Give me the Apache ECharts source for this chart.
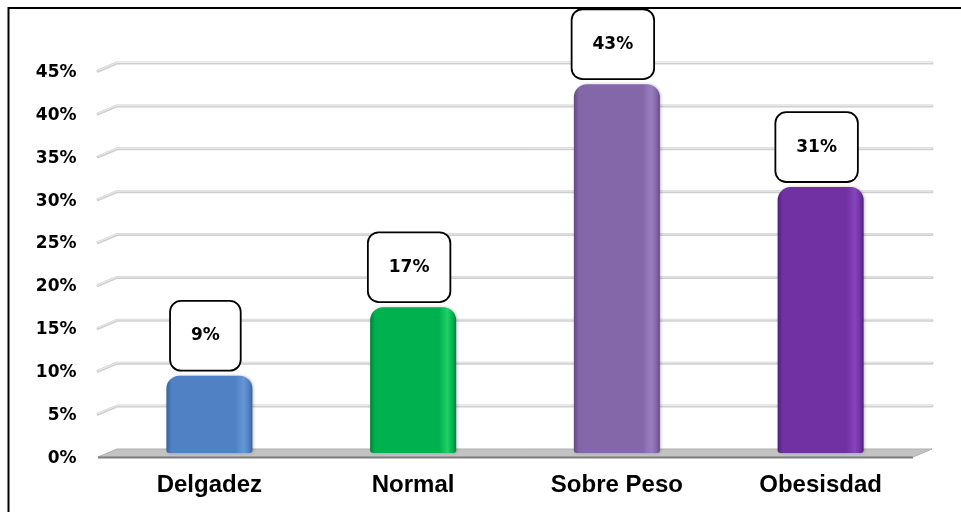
<!DOCTYPE html>
<html>
<head>
<meta charset="utf-8">
<script src="https://cdn.jsdelivr.net/npm/echarts@6/dist/echarts.min.js"></script>
<style>
  html, body { margin: 0; padding: 0; background: #ffffff; }
  #chart { width: 961px; height: 512px; }
</style>
</head>
<body>
<div id="chart"></div>
<script>
// Categories and shares (percent)
const categories = ['Delgadez', 'Normal', 'Sobre Peso', 'Obesisdad'];
const shares = [9, 17, 43, 31];
// Value axis ticks (percent)
const yTicks = [0, 5, 10, 15, 20, 25, 30, 35, 40, 45];

// Bar body colours: [edge shade, body, highlight]
const barColors = [
  ['#3a6496', '#4f81c4', '#6796d6'],
  ['#00843c', '#00b150', '#22cf66'],
  ['#624a82', '#8467a8', '#9a7fc0'],
  ['#521f7a', '#7131a3', '#8744bd']
];

// Perspective depth of the floor/back wall
const DEPTH_X = 9.5, DEPTH_Y = 4;

function barGradient(c) {
  return new echarts.graphic.LinearGradient(0, 0, 1, 0, [
    { offset: 0, color: c[0] },
    { offset: 0.06, color: c[1] },
    { offset: 0.8, color: c[1] },
    { offset: 0.9, color: c[2] },
    { offset: 0.96, color: c[1] },
    { offset: 1, color: c[0] }
  ]);
}

const chart = echarts.init(document.getElementById('chart'), null, { renderer: 'canvas' });

const option = {
  animation: false,
  backgroundColor: '#ffffff',
  graphic: [{
    type: 'rect',
    shape: { x: 8.5, y: 8, width: 1200, height: 1200 },
    style: { fill: 'none', stroke: '#000000', lineWidth: 2 },
    z: 10
  }],
  grid: { left: 107.5, right: 38.5, top: 67, bottom: 59, containLabel: false },
  xAxis: {
    type: 'category',
    data: categories,
    axisLine: { show: false },
    axisTick: { show: false },
    axisLabel: {
      margin: 20,
      fontFamily: 'Liberation Sans',
      fontWeight: 'bold',
      fontSize: 24,
      color: '#000000'
    }
  },
  yAxis: {
    type: 'value',
    min: yTicks[0],
    max: yTicks[yTicks.length - 1],
    interval: yTicks[1] - yTicks[0],
    axisLine: { show: false },
    axisTick: { show: false },
    splitLine: { show: false },
    axisLabel: {
      margin: 31,
      verticalAlign: 'top',
      lineHeight: 11,
      fontFamily: 'DejaVu Sans',
      fontWeight: 'bold',
      fontSize: 17,
      color: '#000000',
      formatter: v => v + '%'
    }
  },
  series: [
    {
      // back wall gridlines and floor
      type: 'custom',
      z: 1,
      silent: true,
      data: yTicks.map(v => [0, v]),
      renderItem: function (params, api) {
        const cs = params.coordSys;
        const v = api.value(1);
        const y = api.coord([0, v])[1];
        const xl = cs.x, xr = cs.x + cs.width;
        if (v === 0) {
          return {
            type: 'group',
            children: [
              {
                type: 'polygon',
                shape: { points: [
                  [xl - DEPTH_X, y + DEPTH_Y], [xr - DEPTH_X, y + DEPTH_Y],
                  [xr + DEPTH_X, y - DEPTH_Y], [xl + DEPTH_X, y - DEPTH_Y]
                ] },
                style: { fill: '#c3c3c3', stroke: '#b0b0b0', lineWidth: 1 }
              },
              {
                type: 'line',
                shape: { x1: xl - DEPTH_X, y1: y + DEPTH_Y + 0.5, x2: xr - DEPTH_X, y2: y + DEPTH_Y + 0.5 },
                style: { stroke: '#7f7f7f', lineWidth: 2 }
              }
            ]
          };
        }
        return {
          type: 'group',
          children: [
            {
              type: 'polyline',
              shape: { points: [
                [xl - DEPTH_X, y + DEPTH_Y], [xl + DEPTH_X, y - DEPTH_Y], [xr + DEPTH_X, y - DEPTH_Y]
              ] },
              style: { stroke: '#cfcfcf', lineWidth: 3, fill: 'none', lineCap: 'round', lineJoin: 'round' }
            },
            {
              type: 'polyline',
              shape: { points: [
                [xl - DEPTH_X, y + DEPTH_Y - 0.5], [xl + DEPTH_X, y - DEPTH_Y - 0.5], [xr + DEPTH_X, y - DEPTH_Y - 0.5]
              ] },
              style: { stroke: '#ececec', lineWidth: 1, fill: 'none' }
            }
          ]
        };
      }
    },
    {
      type: 'bar',
      z: 2,
      barWidth: 86,
      data: shares.map((v, i) => ({
        value: v,
        itemStyle: {
          color: barGradient(barColors[i]),
          borderRadius: [13, 13, 3, 3],
          shadowColor: 'rgba(0,0,0,0.25)',
          shadowBlur: 3,
          shadowOffsetX: 1
        }
      })),
      label: {
        show: true,
        position: 'top',
        distance: 6,
        offset: [-4, 0],
        formatter: p => p.value + '%',
        fontFamily: 'DejaVu Sans',
        fontWeight: 'bold',
        fontSize: 17,
        lineHeight: 18,
        color: '#000000',
        backgroundColor: '#ffffff',
        borderColor: '#000000',
        borderWidth: 1.8,
        borderRadius: 10,
        padding: [25, 20]
      }
    }
  ]
};

chart.setOption(option);
</script>
</body>
</html>
